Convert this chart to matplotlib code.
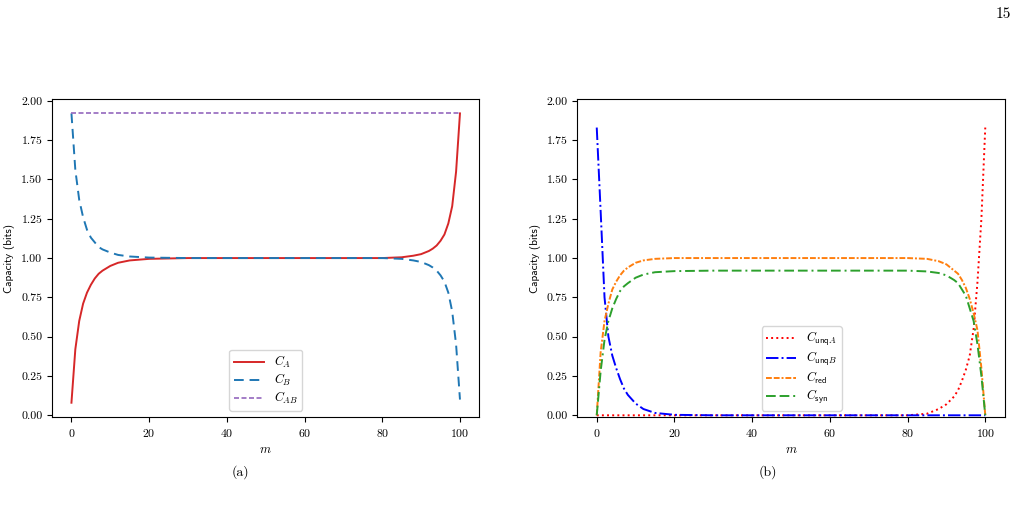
import numpy as np
import matplotlib
matplotlib.use("Agg")
import matplotlib.pyplot as plt

plt.rcParams['font.family'] = ['cmr10', 'DejaVu Serif']
plt.rcParams['mathtext.fontset'] = 'cm'
plt.rcParams['axes.formatter.use_mathtext'] = True

# sample points of m
m = [0, 1, 2, 3, 4, 5, 6, 7, 8, 10, 12, 15, 20, 30, 40, 50, 60, 70, 80,
     85, 88, 90, 92, 93, 94, 95, 96, 97, 98, 99, 100]

# panel (a)
C_A = [0.08, 0.42, 0.60, 0.71, 0.78, 0.83, 0.87, 0.90, 0.92, 0.95, 0.97, 0.985, 0.995,
       1.0, 1.0, 1.0, 1.0, 1.0, 1.0,
       1.005, 1.015, 1.025, 1.045, 1.06, 1.08, 1.11, 1.15, 1.22, 1.33, 1.55, 1.92]
C_B = [1.92, 1.56, 1.37, 1.26, 1.18, 1.13, 1.10, 1.07, 1.055, 1.035, 1.02, 1.01, 1.003,
       1.0, 1.0, 1.0, 1.0, 1.0, 1.0,
       0.995, 0.985, 0.975, 0.955, 0.94, 0.92, 0.89, 0.85, 0.78, 0.66, 0.45, 0.10]
C_AB = [1.92] * len(m)

# panel (b)
C_unqA = [0.0] * 19 + [0.01, 0.04, 0.07, 0.12, 0.16, 0.22, 0.29, 0.38, 0.55, 0.85, 1.25, 1.83]
C_unqB = [1.83, 1.30, 0.75, 0.50, 0.38, 0.30, 0.23, 0.17, 0.13, 0.075, 0.04, 0.015, 0.003,
          0.0, 0.0, 0.0, 0.0, 0.0, 0.0,
          0.0, 0.0, 0.0, 0.0, 0.0, 0.0, 0.0, 0.0, 0.0, 0.0, 0.0, 0.0]
C_red = [0.0, 0.40, 0.60, 0.71, 0.80, 0.85, 0.89, 0.92, 0.94, 0.97, 0.985, 0.995, 1.0,
         1.0, 1.0, 1.0, 1.0, 1.0, 1.0,
         0.995, 0.98, 0.96, 0.92, 0.90, 0.86, 0.81, 0.74, 0.65, 0.54, 0.30, 0.0]
C_syn = [0.0, 0.28, 0.48, 0.60, 0.68, 0.74, 0.79, 0.82, 0.84, 0.875, 0.895, 0.91, 0.917,
         0.92, 0.92, 0.92, 0.92, 0.92, 0.92,
         0.915, 0.905, 0.89, 0.86, 0.84, 0.80, 0.76, 0.68, 0.60, 0.45, 0.25, 0.0]

fig = plt.figure(figsize=(10.2, 5.09), dpi=100)
ax1 = fig.add_axes([0.051, 0.181, 0.419, 0.624])
ax2 = fig.add_axes([0.566, 0.181, 0.419, 0.624])

ax1.plot(m, C_A, color='#d62728', ls='-', lw=1.4, label='$C_A$')
ax1.plot(m, C_B, color='#1f77b4', ls=(0, (5, 3)), lw=1.4, label='$C_B$')
ax1.plot(m, C_AB, color='#9467bd', ls=(0, (3, 1.5)), lw=1.2, label='$C_{AB}$')

ax2.plot(m, C_unqA, color='red', ls=':', lw=1.4, label=r'$C_{\mathsf{unq}A}$')
ax2.plot(m, C_unqB, color='blue', ls='-.', lw=1.4, label=r'$C_{\mathsf{unq}B}$')
ax2.plot(m, C_red, color='#ff7f0e', ls=(0, (3, 1, 3, 1, 1, 1)), lw=1.4, label=r'$C_{\mathsf{red}}$')
ax2.plot(m, C_syn, color='#2ca02c', ls=(0, (5, 2, 5, 2, 1, 2)), lw=1.4, label=r'$C_{\mathsf{syn}}$')

for ax in (ax1, ax2):
    ax.set_xlim(-5, 105)
    ax.set_ylim(-0.01, 2.01)
    ax.set_yticks(np.arange(0, 2.01, 0.25))
    ax.set_yticklabels(['%.2f' % v for v in np.arange(0, 2.01, 0.25)])
    ax.set_xticks([0, 20, 40, 60, 80, 100])
    ax.tick_params(labelsize=8.5, length=3.5, width=0.8)
    ax.set_xlabel('$m$', fontsize=9)
    ax.set_ylabel('Capacity (bits)', fontsize=8, family=['cmss10', 'DejaVu Sans'])

ax1.legend(loc='lower center', fontsize=9, handlelength=2.4, labelspacing=0.15,
           borderpad=0.35)
ax2.legend(loc='lower center', bbox_to_anchor=(0.525, 0.0), fontsize=9,
           handlelength=2.4, labelspacing=0.15, borderpad=0.35)

fig.text(0.236, 0.065, '(a)', ha='center', fontsize=10)
fig.text(0.753, 0.065, '(b)', ha='center', fontsize=10)
fig.text(0.984, 0.972, '15', ha='center', va='center', fontsize=11)

plt.savefig('out.png')
plt.close()
